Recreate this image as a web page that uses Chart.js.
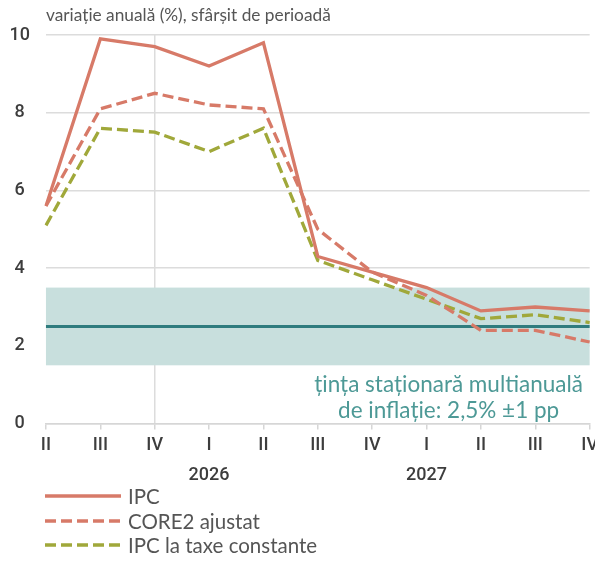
<!DOCTYPE html>
<html><head><meta charset="utf-8">
<script src="https://cdn.jsdelivr.net/npm/chart.js@4/dist/chart.umd.min.js"></script>
<style>
html,body{margin:0;padding:0;background:#fff;overflow:hidden;}
#wrap{position:relative;width:595px;height:568px;overflow:hidden;}
#box{position:absolute;left:0;top:0;width:599px;height:491px;}
#title{position:absolute;left:46px;top:4px;font-family:Lato,sans-serif;font-size:17.3px;color:#555;white-space:nowrap;}
#legend{position:absolute;left:45px;top:484px;font-family:Lato,sans-serif;font-size:20.5px;color:#555;}
.li{height:24.5px;display:flex;align-items:center;}
.li svg{margin-right:7px;}
</style></head>
<body><div id="wrap">
<div id="box"><canvas id="c"></canvas></div>
<div id="title">variație anuală (%), sfârșit de perioadă</div>
<div id="legend"></div>
</div>
<script>
const quarters = ['II','III','IV','I','II','III','IV','I','II','III','IV'];
const years    = ['','','','2026','','','','2027','','',''];
const ipc      = [5.6, 9.9, 9.7, 9.2, 9.8, 4.3, 3.9, 3.5, 2.9, 3.0, 2.9];
const core2    = [5.6, 8.1, 8.5, 8.2, 8.1, 5.0, 3.9, 3.3, 2.4, 2.4, 2.1];
const ipcTaxe  = [5.1, 7.6, 7.5, 7.0, 7.6, 4.2, 3.7, 3.2, 2.7, 2.8, 2.6];
const target = 2.5, targetLow = 1.5, targetHigh = 3.5;
const seriesNames = ['IPC','CORE2 ajustat','IPC la taxe constante'];
const noteLines = ['țința staționară multianuală','de inflație: 2,5% ±1 pp'];

const RED = '#d77a68', GREEN = '#a0a83a', BAND = '#c8dfdd', TLINE = '#2f7c7e', NOTE = '#4d9996';
const DASH = [11,5];

const bandPlugin = {
  id:'band',
  beforeDatasetsDraw(chart){
    const {ctx, chartArea:a, scales:{y}} = chart;
    ctx.save();
    ctx.fillStyle = BAND;
    const t = y.getPixelForValue(targetHigh), b = y.getPixelForValue(targetLow);
    ctx.fillRect(a.left, t, a.right-a.left, b-t);
    ctx.strokeStyle = TLINE; ctx.lineWidth = 3;
    const yy = y.getPixelForValue(target);
    ctx.beginPath(); ctx.moveTo(a.left, yy); ctx.lineTo(a.right, yy); ctx.stroke();
    ctx.fillStyle = NOTE;
    ctx.font = '22.5px Lato, sans-serif';
    ctx.textAlign = 'center'; ctx.textBaseline = 'middle';
    const cx = a.right - 141;
    ctx.fillText(noteLines[0], cx, y.getPixelForValue(1.0));
    ctx.fillText(noteLines[1], cx, y.getPixelForValue(0.32));
    ctx.restore();
  }
};

const tickFont = {family:'Roboto, sans-serif', size:18, weight:'500'};

new Chart(document.getElementById('c'), {
  type:'line',
  data:{
    labels: quarters.map((q,i)=>[q, years[i]]),
    datasets:[
      {label:seriesNames[0], data:ipc, borderColor:RED, borderWidth:3.3, pointRadius:0, tension:0},
      {label:seriesNames[1], data:core2, borderColor:RED, borderWidth:3.3, borderDash:DASH, pointRadius:0, tension:0},
      {label:seriesNames[2], data:ipcTaxe, borderColor:GREEN, borderWidth:3.3, borderDash:DASH, pointRadius:0, tension:0}
    ]
  },
  options:{
    responsive:true, maintainAspectRatio:false, animation:false,
    layout:{padding:{left:-6.5, right:-1, top:35, bottom:0}},
    plugins:{legend:{display:false}, tooltip:{enabled:false}},
    scales:{
      x:{
        offset:false,
        border:{display:true, color:'#d6d6d6', width:1.5},
        grid:{color:(c)=> c.index===2 ? '#dcdcdc' : 'rgba(0,0,0,0)', tickColor:'#d6d6d6', tickLength:6, lineWidth:1.5, drawOnChartArea:true},
        ticks:{color:'#3d3d3d', font:{...tickFont, lineHeight:1.65}, maxRotation:0, autoSkip:false, padding:1}
      },
      y:{
        min:0, max:10,
        border:{display:false},
        grid:{color:'#dcdcdc', lineWidth:1.5, drawTicks:false},
        ticks:{stepSize:2, color:'#3d3d3d', font:tickFont, padding:16, crossAlign:'center'}
      }
    }
  },
  plugins:[bandPlugin]
});

const leg = document.getElementById('legend');
const styles = [{c:RED,d:''},{c:RED,d:'11 5'},{c:GREEN,d:'11 5'}];
seriesNames.forEach((n,i)=>{
  const s = styles[i];
  const div = document.createElement('div'); div.className='li';
  div.innerHTML = `<svg width="76" height="6"><line x1="0" y1="3" x2="76" y2="3" stroke="${s.c}" stroke-width="3.3" ${s.d?`stroke-dasharray="${s.d}"`:''}/></svg><span>${n}</span>`;
  leg.appendChild(div);
});
</script>
</body></html>
